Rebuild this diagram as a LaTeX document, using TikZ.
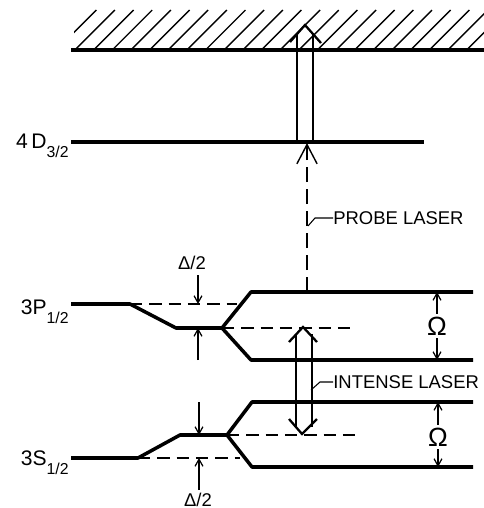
\documentclass[tikz,border=0pt]{standalone}
\usepackage{fontspec}
\setmainfont{Liberation Sans}
\usetikzlibrary{arrows.meta,positioning,calc}

\newcommand{\statelbl}[2]{{\fontsize{12}{14}\selectfont#1}\raisebox{-5.5pt}{\fontsize{9}{10}\selectfont#2}}

\begin{document}
\begin{tikzpicture}[x=0.02cm,y=-0.02cm,
  lvl/.style={line width=2pt,line join=round},
  guide/.style={line width=0.8pt,dash pattern=on 7pt off 4pt},
  txt/.style={font=\fontsize{10.5}{12}\selectfont,inner sep=0pt},
  omega/.style={font=\fontsize{15}{16}\selectfont,inner sep=1.5pt},
  arrow/.style={-{Straight Barb[length=4pt,width=4.5pt]},line width=0.7pt},
  hollow/.style={line width=0.8pt},
  tip/.style={line width=1.3pt,line join=miter}
]
\useasboundingbox (0,0) rectangle (484,508);

% continuum
\begin{scope}
  \clip (74,9) rectangle (484,50);
  \foreach \k in {0,...,23}
    \draw[line width=0.8pt] (56.3+18.65*\k,50) -- ++(40,-40);
\end{scope}
\draw[lvl] (71,50) -- (484,50);

% 4D level
\draw[lvl] (71,142) -- (424,142);
\node[txt,anchor=base east] (lD) at (69,148) {\statelbl{4\,D}{3/2}};

% 3P level, light shifted and split
\coordinate (pC) at (222,328);
\draw[lvl] (71,304) -- (130,304) -- (176,328) -- (pC);
\draw[lvl] (pC) -- (251,292) coordinate (pU) -- (473,292);
\draw[lvl] (pC) -- (251,360) coordinate (pD) -- (473,360);
\draw[guide] (130,304) -- (237,304);
\draw[guide] (pC) -- (355,328);
\node[txt,anchor=base east] (lP) at (69,314) {\statelbl{3P}{1/2}};

% 3S level
\coordinate (sC) at (227,435);
\draw[lvl] (71,458) -- (138,458) -- (180,435) -- (sC);
\draw[lvl] (sC) -- (252,402) coordinate (sU) -- (473,402);
\draw[lvl] (sC) -- (252,467) coordinate (sD) -- (473,467);
\draw[guide] (138,458) -- (240,458);
\draw[guide] (sC) -- (357,435);
\node[txt,anchor=base east] (lS) at (69,465) {\statelbl{3S}{1/2}};

% shifts
\node[txt] (dP) at (192,263) {Δ/2};
\draw[arrow] (198,275) -- (198,304);
\draw[arrow] (198,360) -- (198,328);
\node[txt] (dS) at (198,500) {Δ/2};
\draw[arrow] (199,402) -- (199,435);
\draw[arrow] (199,490) -- (199,458);

% splittings
\node[omega] (omP) at (437,326) {Ω};
\draw[arrow] (omP.north) -- (omP.north |- pU);
\draw[arrow] (omP.south) -- (omP.south |- pD);
\node[omega] (omS) at (438,437) {Ω};
\draw[arrow] (omS.north) -- (omS.north |- sU);
\draw[arrow] (omS.south) -- (omS.south |- sD);

% probe laser
\draw[line width=0.8pt,dash pattern=on 8.5pt off 4pt,
  -{Straight Barb[length=11pt,width=11.5pt]}] (307,292) -- (307,143);
\node[txt,anchor=west] (probe) at (333,218) {PROBE LASER};
\draw[line width=0.6pt] (308,226) -- (315,218) -- (probe.west);
\draw[hollow] (297,142) -- (297,34) (313,142) -- (313,34);
\draw[tip] (290,42) -- (305,25) -- (321,43);

% intense laser
\draw[hollow] (296,334) -- (296,427) (312,334) -- (312,427);
\draw[tip] (289,342) -- (303,327) -- (317,342);
\draw[tip] (289,419) -- (302,434) -- (317,419);
\node[txt,anchor=west] (intense) at (333,382) {INTENSE LASER};
\draw[line width=0.6pt] (311,390) -- (320,382) -- (intense.west);
\end{tikzpicture}
\end{document}
